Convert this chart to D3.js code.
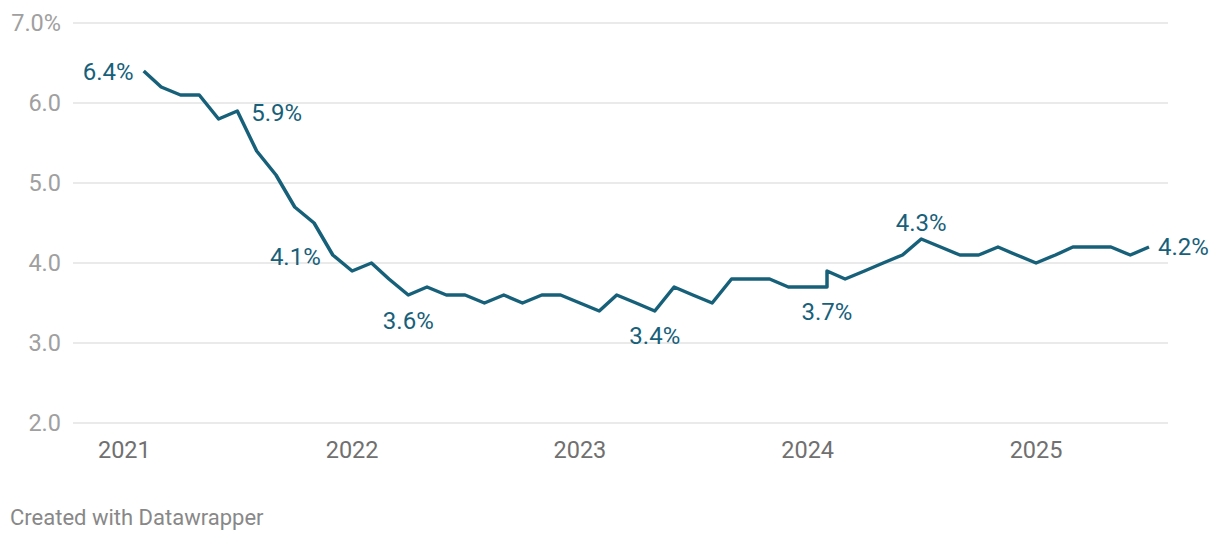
<!DOCTYPE html>
<html>
<head>
<meta charset="utf-8">
<script src="https://cdn.jsdelivr.net/npm/d3@7"></script>
<style>
    body { margin: 0; background: #fff; }
    text { font-family: Roboto, "Noto Sans", sans-serif; }
    .grid line { stroke: #e3e3e3; stroke-width: 1.5; }
    .ytick { fill: #a0a0a0; font-size: 23.5px; }
    .xtick { fill: #707070; font-size: 23.5px; }
    .label { fill: #17607a; font-size: 24px; }
    .credit { fill: #888; font-size: 22px; }
</style>
</head>
<body>
<svg id="chart" width="1220" height="540"></svg>
<script>
// plotted month of each point (the source switches date convention in Feb 2024)
const months = [
    "2021-02", "2021-03", "2021-04", "2021-05", "2021-06", "2021-07",
    "2021-08", "2021-09", "2021-10", "2021-11", "2021-12", "2022-01",
    "2022-02", "2022-03", "2022-04", "2022-05", "2022-06", "2022-07",
    "2022-08", "2022-09", "2022-10", "2022-11", "2022-12", "2023-01",
    "2023-02", "2023-03", "2023-04", "2023-05", "2023-06", "2023-07",
    "2023-08", "2023-09", "2023-10", "2023-11", "2023-12", "2024-01",
    "2024-02", "2024-02", "2024-03", "2024-04", "2024-05", "2024-06",
    "2024-07", "2024-08", "2024-09", "2024-10", "2024-11", "2024-12",
    "2025-01", "2025-02", "2025-03", "2025-04", "2025-05", "2025-06",
    "2025-07"
];

const rates = [
    6.4, 6.2, 6.1, 6.1, 5.8, 5.9,
    5.4, 5.1, 4.7, 4.5, 4.1, 3.9,
    4.0, 3.8, 3.6, 3.7, 3.6, 3.6,
    3.5, 3.6, 3.5, 3.6, 3.6, 3.5,
    3.4, 3.6, 3.5, 3.4, 3.7, 3.6,
    3.5, 3.8, 3.8, 3.8, 3.7, 3.7,
    3.7, 3.9, 3.8, 3.9, 4.0, 4.1,
    4.3, 4.2, 4.1, 4.1, 4.2, 4.1,
    4.0, 4.1, 4.2, 4.2, 4.2, 4.1,
    4.2
];

const yTicks = [2, 3, 4, 5, 6, 7];
const xTicks = ["2021", "2022", "2023", "2024", "2025"];

// indexes of the points that get a value label
const labelled = [0, 5, 10, 14, 27, 36, 42, 54];

const parseMonth = d3.timeParse("%Y-%m");
const data = months.map(function(m, i){
    return {date: parseMonth(m), value: rates[i]};
});

const svg = d3.select("#chart");

const x = d3.scaleTime()
    .domain(d3.extent(data, d => d.date))
    .range([143.7, 1149]);

const y = d3.scaleLinear()
    .domain([2, 7])
    .range([423, 23]);

// gridlines
const grid = svg.append("g").attr("class", "grid");
grid.selectAll("line")
    .data(yTicks)
    .enter()
    .append("line")
    .attr("x1", 73)
    .attr("x2", 1168)
    .attr("y1", d => y(d))
    .attr("y2", d => y(d));

// y labels, only the top one carries the % sign
svg.append("g").selectAll("text")
    .data(yTicks)
    .enter()
    .append("text")
    .attr("class", "ytick")
    .attr("x", 61)
    .attr("y", d => y(d))
    .attr("dy", "0.36em")
    .attr("text-anchor", "end")
    .text(d => d == 7 ? d.toFixed(1) + "%" : d.toFixed(1));

// x labels
const parseYear = d3.timeParse("%Y");
svg.append("g").selectAll("text")
    .data(xTicks)
    .enter()
    .append("text")
    .attr("class", "xtick")
    .attr("x", d => x(parseYear(d)))
    .attr("y", 458)
    .attr("text-anchor", "middle")
    .text(d => d);

// the line
const line = d3.line()
    .x(d => x(d.date))
    .y(d => y(d.value));

svg.append("path")
    .datum(data)
    .attr("d", line)
    .attr("fill", "none")
    .attr("stroke", "#17607a")
    .attr("stroke-width", 3.5)
    .attr("stroke-linejoin", "round");

// value labels, placed around their point
const placement = {
    0:  {dx: -10, dy: 0,   anchor: "end"},
    5:  {dx: 14,  dy: 1,   anchor: "start"},
    10: {dx: -12, dy: 1,   anchor: "end"},
    14: {dx: 0,   dy: 25,  anchor: "middle"},
    27: {dx: 0,   dy: 24,  anchor: "middle"},
    36: {dx: 0,   dy: 24,  anchor: "middle"},
    42: {dx: 0,   dy: -17, anchor: "middle"},
    54: {dx: 9,   dy: -1,  anchor: "start"}
};

svg.append("g").selectAll("text")
    .data(labelled)
    .enter()
    .append("text")
    .attr("class", "label")
    .attr("x", i => x(data[i].date) + placement[i].dx)
    .attr("y", i => y(data[i].value) + placement[i].dy)
    .attr("dy", "0.36em")
    .attr("text-anchor", i => placement[i].anchor)
    .text(i => data[i].value.toFixed(1) + "%");

svg.append("text")
    .attr("class", "credit")
    .attr("x", 10)
    .attr("y", 525)
    .text("Created with Datawrapper");
</script>
</body>
</html>
